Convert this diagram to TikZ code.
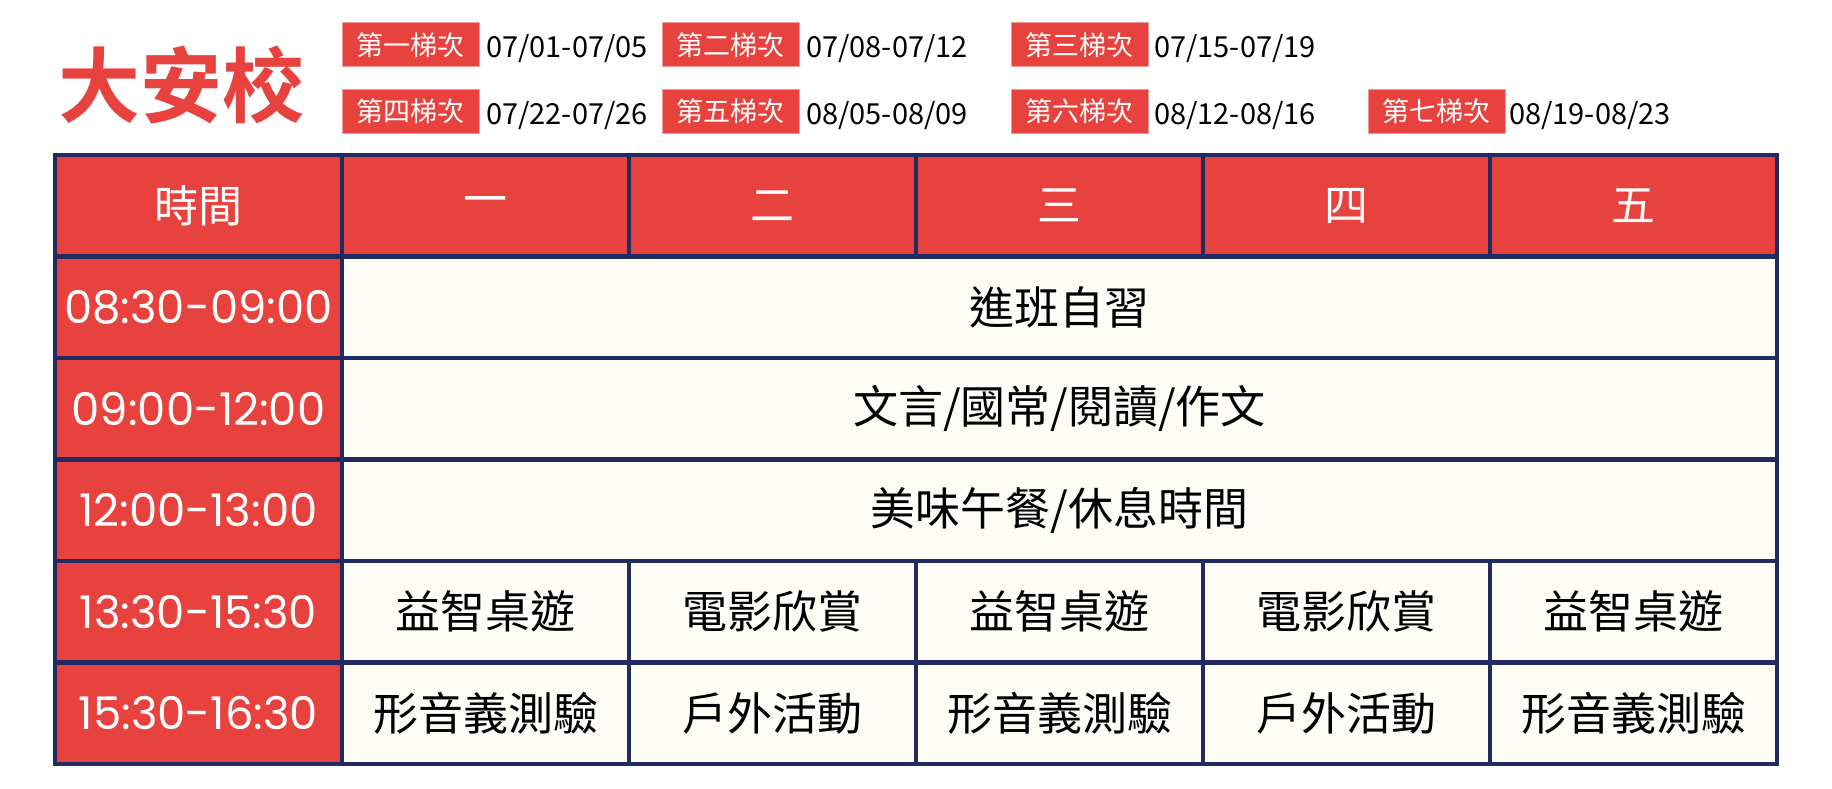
\documentclass[tikz,border=0pt]{standalone}
\usepackage{fontspec}
\newfontfamily\cjk{Noto Sans CJK TC}
\newfontfamily\titlefont{Noto Sans CJK TC Bold}
\newfontfamily\timefont{Poppins}
\definecolor{myred}{HTML}{E8423F}
\definecolor{navy}{HTML}{222B5F}
\definecolor{cream}{HTML}{FDFDF5}
\definecolor{badgeline}{HTML}{F29A98}
\tikzset{
  cellbase/.style={draw=navy, line width=4.5pt, inner sep=0pt, minimum height=101.5pt, anchor=center},
  hdr/.style={cellbase, fill=myred, text=white, minimum width=287pt, font=\cjk\fontsize{44}{48}\selectfont},
  timecell/.style={cellbase, fill=myred, text=white, minimum width=287pt, font=\timefont\fontsize{45}{48}\selectfont},
  bodycell/.style={cellbase, fill=cream, text=black, minimum width=287pt, font=\cjk\fontsize{45}{48}\selectfont},
  widecell/.style={cellbase, fill=cream, text=black, minimum width=1435pt, font=\cjk\fontsize{45}{48}\selectfont},
  badge/.style={fill=myred, draw=badgeline, line width=1pt, text=white, minimum width=137pt, minimum height=44pt, inner sep=0pt, font=\cjk\fontsize{27}{29}\selectfont},
  datetext/.style={anchor=west, inner sep=0pt, text=black, font=\cjk\fontsize{29}{31}\selectfont},
}
\begin{document}
\begin{tikzpicture}[x=1pt, y=-1pt]
\useasboundingbox (0,0) rectangle (1832,789);
\fill[white] (0,0) rectangle (1832,789);
% title
\node[text=myred, inner sep=0pt, font=\titlefont\fontsize{82}{86}\selectfont] (title) at (181,85) {大安校};
% badges and dates
\node[badge] (b1) at (410.5,45) {第一梯次};
\node[datetext] (d1) at (486,49) {07/01-07/05};
\node[badge] (b2) at (730.5,45) {第二梯次};
\node[datetext] (d2) at (806,49) {07/08-07/12};
\node[badge] (b3) at (1079.5,45) {第三梯次};
\node[datetext] (d3) at (1154,49) {07/15-07/19};
\node[badge] (b4) at (410.5,111.5) {第四梯次};
\node[datetext] (d4) at (486,116) {07/22-07/26};
\node[badge] (b5) at (730.5,111.5) {第五梯次};
\node[datetext] (d5) at (806,116) {08/05-08/09};
\node[badge] (b6) at (1079.5,111.5) {第六梯次};
\node[datetext] (d6) at (1154,116) {08/12-08/16};
\node[badge] (b7) at (1436.5,111.5) {第七梯次};
\node[datetext] (d7) at (1509,116) {08/19-08/23};
% header row
\node[hdr] (h0) at (198.5,205.75) {時間};
\node[hdr] (h1) at (485.5,205.75) {一};
\node[hdr] (h2) at (772.5,205.75) {二};
\node[hdr] (h3) at (1059.5,205.75) {三};
\node[hdr] (h4) at (1346.5,205.75) {四};
\node[hdr] (h5) at (1633.5,205.75) {五};
% time column
\node[timecell] (t1) at (198.5,307.25) {08:30-09:00};
\node[timecell] (t2) at (198.5,408.75) {09:00-12:00};
\node[timecell] (t3) at (198.5,510.25) {12:00-13:00};
\node[timecell] (t4) at (198.5,611.75) {13:30-15:30};
\node[timecell] (t5) at (198.5,713.25) {15:30-16:30};
% wide rows
\node[widecell] (r1) at (1059.5,307.25) {進班自習};
\node[widecell] (r2) at (1059.5,408.75) {文言/國常/閱讀/作文};
\node[widecell] (r3) at (1059.5,510.25) {美味午餐/休息時間};
% row 4
\node[bodycell] (c41) at (485.5,611.75) {益智桌遊};
\node[bodycell] (c42) at (772.5,611.75) {電影欣賞};
\node[bodycell] (c43) at (1059.5,611.75) {益智桌遊};
\node[bodycell] (c44) at (1346.5,611.75) {電影欣賞};
\node[bodycell] (c45) at (1633.5,611.75) {益智桌遊};
% row 5
\node[bodycell] (c51) at (485.5,713.25) {形音義測驗};
\node[bodycell] (c52) at (772.5,713.25) {戶外活動};
\node[bodycell] (c53) at (1059.5,713.25) {形音義測驗};
\node[bodycell] (c54) at (1346.5,713.25) {戶外活動};
\node[bodycell] (c55) at (1633.5,713.25) {形音義測驗};
\end{tikzpicture}
\end{document}
